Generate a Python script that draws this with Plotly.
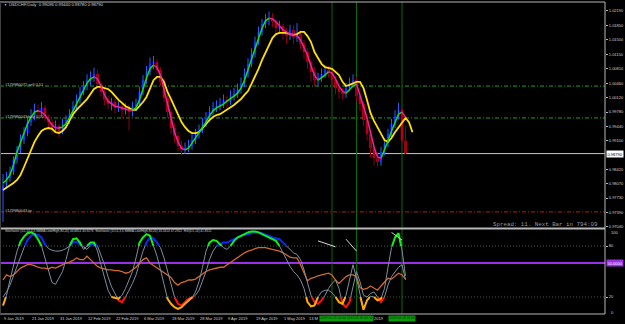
import plotly.graph_objects as go

W, H = 625, 324

# ---------------- data ----------------
bars = list(range(116))

opens = [0.9790, 0.9804, 0.9821, 0.9835, 0.9864, 0.9888, 0.9911, 0.9928, 0.9954, 0.9964,
         0.9983, 0.9978, 0.9988, 0.9964, 0.9954, 0.9940, 0.9945, 0.9930, 0.9950, 0.9959,
         0.9973, 0.9992, 1.0007, 1.0026, 1.0040, 1.0054, 1.0059, 1.0069, 1.0045, 1.0026,
         1.0007, 0.9997, 1.0002, 0.9988, 0.9992, 0.9983, 0.9988, 0.9978, 0.9992, 0.9997,
         1.0026, 1.0054, 1.0074, 1.0093, 1.0097, 1.0078, 1.0050, 1.0012, 0.9978, 0.9940,
         0.9921, 0.9897, 0.9888, 0.9892, 0.9897, 0.9911, 0.9926, 0.9935, 0.9950, 0.9964,
         0.9978, 0.9988, 0.9992, 0.9997, 1.0007, 1.0002, 1.0016, 1.0021, 1.0031, 1.0045,
         1.0069, 1.0093, 1.0116, 1.0145, 1.0169, 1.0188, 1.0198, 1.0202, 1.0193, 1.0178,
         1.0183, 1.0169, 1.0159, 1.0174, 1.0155, 1.0164, 1.0140, 1.0121, 1.0097, 1.0074,
         1.0054, 1.0059, 1.0069, 1.0078, 1.0074, 1.0054, 1.0035, 1.0026, 1.0021, 1.0035,
         1.0045, 1.0054, 1.0016, 0.9997, 0.9959, 0.9926, 0.9892, 0.9868, 0.9859, 0.9883,
         0.9902, 0.9926, 0.9950, 0.9969, 0.9983, 0.9910]

closes = [0.9804, 0.9821, 0.9835, 0.9864, 0.9888, 0.9911, 0.9928, 0.9954, 0.9964, 0.9983,
          0.9978, 0.9988, 0.9964, 0.9954, 0.9940, 0.9945, 0.9930, 0.9950, 0.9959, 0.9973,
          0.9992, 1.0007, 1.0026, 1.0040, 1.0054, 1.0059, 1.0069, 1.0045, 1.0026, 1.0007,
          0.9997, 1.0002, 0.9988, 0.9992, 0.9983, 0.9988, 0.9978, 0.9992, 0.9997, 1.0026,
          1.0054, 1.0074, 1.0093, 1.0097, 1.0078, 1.0050, 1.0012, 0.9978, 0.9940, 0.9921,
          0.9897, 0.9888, 0.9892, 0.9897, 0.9911, 0.9926, 0.9935, 0.9950, 0.9964, 0.9978,
          0.9988, 0.9992, 0.9997, 1.0007, 1.0002, 1.0016, 1.0021, 1.0031, 1.0045, 1.0069,
          1.0093, 1.0116, 1.0145, 1.0169, 1.0188, 1.0198, 1.0202, 1.0193, 1.0178, 1.0183,
          1.0169, 1.0159, 1.0174, 1.0155, 1.0164, 1.0140, 1.0121, 1.0097, 1.0074, 1.0054,
          1.0059, 1.0069, 1.0078, 1.0074, 1.0054, 1.0035, 1.0026, 1.0021, 1.0035, 1.0045,
          1.0054, 1.0016, 0.9997, 0.9959, 0.9926, 0.9892, 0.9868, 0.9859, 0.9883, 0.9902,
          0.9926, 0.9950, 0.9969, 0.9983, 0.9910, 0.9879]

highs = [0.9830, 0.9835, 0.9848, 0.9872, 0.9897, 0.9925, 0.9942, 0.9968, 0.9985, 0.9998,
         0.9995, 1.0002, 0.9994, 0.9972, 0.9962, 0.9958, 0.9950, 0.9962, 0.9970, 0.9985,
         1.0004, 1.0020, 1.0038, 1.0052, 1.0068, 1.0075, 1.0084, 1.0078, 1.0052, 1.0033,
         1.0018, 1.0012, 1.0010, 1.0004, 0.9998, 0.9999, 0.9995, 1.0003, 1.0010, 1.0038,
         1.0066, 1.0088, 1.0108, 1.0112, 1.0104, 1.0085, 1.0058, 1.0020, 0.9985, 0.9950,
         0.9930, 0.9910, 0.9905, 0.9912, 0.9925, 0.9938, 0.9948, 0.9964, 0.9978, 0.9992,
         1.0002, 1.0006, 1.0012, 1.0020, 1.0016, 1.0030, 1.0036, 1.0046, 1.0060, 1.0082,
         1.0106, 1.0130, 1.0158, 1.0182, 1.0200, 1.0212, 1.0218, 1.0214, 1.0200, 1.0196,
         1.0190, 1.0178, 1.0186, 1.0185, 1.0190, 1.0172, 1.0150, 1.0130, 1.0105, 1.0085,
         1.0072, 1.0082, 1.0090, 1.0088, 1.0080, 1.0062, 1.0045, 1.0036, 1.0048, 1.0060,
         1.0068, 1.0060, 1.0025, 1.0005, 0.9968, 0.9935, 0.9900, 0.9880, 0.9895, 0.9915,
         0.9938, 0.9962, 0.9982, 1.0000, 0.9990, 0.9944]

lows = [0.9716, 0.9795, 0.9812, 0.9828, 0.9855, 0.9880, 0.9902, 0.9920, 0.9945, 0.9958,
        0.9965, 0.9968, 0.9955, 0.9940, 0.9925, 0.9930, 0.9918, 0.9925, 0.9940, 0.9950,
        0.9966, 0.9984, 0.9998, 1.0018, 1.0030, 1.0042, 1.0050, 1.0038, 1.0015, 0.9995,
        0.9985, 0.9982, 0.9975, 0.9978, 0.9962, 0.9972, 0.9935, 0.9968, 0.9980, 0.9990,
        1.0018, 1.0045, 1.0066, 1.0080, 1.0070, 1.0040, 1.0002, 0.9965, 0.9925, 0.9905,
        0.9885, 0.9875, 0.9878, 0.9882, 0.9888, 0.9902, 0.9915, 0.9928, 0.9942, 0.9955,
        0.9970, 0.9978, 0.9982, 0.9988, 0.9990, 0.9995, 1.0005, 1.0012, 1.0022, 1.0038,
        1.0060, 1.0085, 1.0108, 1.0138, 1.0160, 1.0178, 1.0185, 1.0180, 1.0165, 1.0168,
        1.0150, 1.0140, 1.0150, 1.0140, 1.0145, 1.0128, 1.0105, 1.0080, 1.0050, 1.0040,
        1.0040, 1.0050, 1.0060, 1.0062, 1.0040, 1.0020, 1.0010, 1.0008, 1.0012, 1.0028,
        1.0038, 1.0005, 0.9980, 0.9945, 0.9910, 0.9870, 0.9852, 0.9848, 0.9850, 0.9875,
        0.9895, 0.9918, 0.9940, 0.9960, 0.9905, 0.9878]

fast_ma = [0.9809, 0.9816, 0.9828, 0.9852, 0.9883, 0.9907, 0.9930, 0.9950, 0.9966, 0.9978,
           0.9981, 0.9978, 0.9971, 0.9959, 0.9947, 0.9940, 0.9940, 0.9942, 0.9950, 0.9964,
           0.9981, 0.9997, 1.0014, 1.0031, 1.0047, 1.0057, 1.0062, 1.0057, 1.0040, 1.0019,
           1.0004, 0.9997, 0.9992, 0.9990, 0.9988, 0.9985, 0.9983, 0.9983, 0.9988, 1.0007,
           1.0035, 1.0059, 1.0081, 1.0090, 1.0085, 1.0066, 1.0031, 0.9995, 0.9959, 0.9930,
           0.9907, 0.9892, 0.9888, 0.9892, 0.9904, 0.9916, 0.9928, 0.9940, 0.9954, 0.9969,
           0.9981, 0.9988, 0.9992, 0.9997, 1.0004, 1.0009, 1.0016, 1.0023, 1.0035, 1.0054,
           1.0078, 1.0102, 1.0131, 1.0155, 1.0178, 1.0195, 1.0202, 1.0200, 1.0193, 1.0183,
           1.0174, 1.0169, 1.0164, 1.0162, 1.0160, 1.0150, 1.0133, 1.0114, 1.0088, 1.0066,
           1.0054, 1.0059, 1.0066, 1.0074, 1.0071, 1.0057, 1.0040, 1.0028, 1.0023, 1.0031,
           1.0040, 1.0045, 1.0019, 0.9995, 0.9964, 0.9930, 0.9895, 0.9871, 0.9868, 0.9888,
           0.9909, 0.9933, 0.9954, 0.9973, 0.9978, 0.9966]

# slow MA is displayed shifted two bars forward (118 points)
slow_ma = [0.9792, 0.9797, 0.9802, 0.9809, 0.9816, 0.9828, 0.9847, 0.9868, 0.9888, 0.9907,
           0.9921, 0.9933, 0.9938, 0.9940, 0.9938, 0.9930, 0.9928, 0.9933, 0.9942, 0.9959,
           0.9973, 0.9983, 0.9992, 1.0002, 1.0009, 1.0021, 1.0033, 1.0038, 1.0038, 1.0035,
           1.0033, 1.0026, 1.0016, 1.0007, 1.0000, 0.9992, 0.9988, 0.9983, 0.9983, 0.9992,
           1.0002, 1.0014, 1.0035, 1.0054, 1.0062, 1.0062, 1.0050, 1.0026, 1.0009, 0.9992,
           0.9973, 0.9954, 0.9942, 0.9933, 0.9928, 0.9928, 0.9930, 0.9940, 0.9950, 0.9959,
           0.9966, 0.9971, 0.9973, 0.9978, 0.9983, 0.9988, 0.9995, 1.0002, 1.0009, 1.0019,
           1.0028, 1.0045, 1.0062, 1.0081, 1.0102, 1.0121, 1.0140, 1.0155, 1.0164, 1.0167,
           1.0167, 1.0167, 1.0164, 1.0162, 1.0164, 1.0169, 1.0169, 1.0159, 1.0145, 1.0121,
           1.0107, 1.0093, 1.0085, 1.0083, 1.0081, 1.0074, 1.0066, 1.0050, 1.0040, 1.0043,
           1.0047, 1.0050, 1.0050, 1.0035, 1.0007, 0.9976, 0.9957, 0.9942, 0.9926, 0.9911,
           0.9907, 0.9916, 0.9930, 0.9942, 0.9954, 0.9964, 0.9954, 0.9930]

stoch_fast = [10, 22, 40, 58, 74, 85, 91, 95, 96, 94,
              88, 80, 66, 50, 37, 35, 42, 50, 64, 80,
              88, 89, 84, 76, 80, 84, 84, 74, 58, 42,
              28, 20, 19, 18, 22, 30, 40, 50, 66, 84,
              90, 94, 92, 80, 68, 52, 34, 18, 12, 8,
              6, 8, 12, 16, 19, 26, 38, 55, 74, 84,
              87, 86, 82, 78, 76, 80, 86, 90, 92, 94,
              96, 97, 97, 96, 94, 92, 90, 88, 86, 80,
              72, 64, 56, 50, 46, 40, 30, 14, 9, 10,
              20, 26, 28, 28, 25, 20, 14, 12, 22, 40,
              58, 42, 22, 5, 16, 21, 20, 16, 18, 30,
              55, 78, 90, 95, 75, 45]

stoch_slow = [20, 26, 34, 45, 56, 68, 78, 87, 92, 94,
              93, 90, 82, 77, 75, 74, 74, 75, 77, 80,
              84, 85, 82, 78, 76, 81, 83, 80, 70, 58,
              44, 32, 24, 16, 14, 20, 28, 36, 46, 60,
              74, 84, 90, 89, 84, 78, 66, 50, 34, 20,
              12, 10, 14, 18, 19, 22, 28, 38, 50, 64,
              74, 80, 82, 84, 84, 86, 88, 90, 92, 93,
              94, 95, 96, 96, 95, 93, 92, 90, 89, 88,
              84, 80, 76, 72, 70, 64, 52, 36, 22, 14,
              12, 16, 22, 30, 36, 40, 30, 12, 8, 14,
              34, 50, 38, 22, 20, 24, 26, 20, 14, 20,
              34, 44, 50, 55, 58, 40]

rsi = [40, 46, 44, 46, 50, 54, 56, 58, 58, 57,
       55, 54, 54, 53, 55, 54, 56, 58, 60, 61,
       63, 66, 64, 64, 68, 64, 60, 56, 54, 53,
       52, 52, 51, 51, 50, 48, 49, 52, 55, 60,
       64, 66, 60, 57, 54, 51, 49, 46, 43, 37,
       34, 37, 38, 40, 40, 41, 44, 48, 50, 52,
       53, 54, 55, 55, 58, 60, 63, 66, 70, 72,
       74, 75, 77, 78, 78, 78, 77, 76, 75, 74,
       72, 69, 67, 66, 66, 58, 48, 39, 42, 43,
       45, 46, 47, 48, 46, 40, 36, 40, 44, 46,
       46, 44, 31, 29, 30, 33, 30, 28, 33, 38,
       42, 41, 45, 48, 46, 41]

# short marks of another indicator in the sub window (bar, value)
mark_x = [90, 95, None, 98, 101, None, 111, 114]
mark_v = [86, 79, None, 88, 74, None, 96, 87]

price_ticks = [1.02190, 1.01850, 1.01500, 1.01150, 1.00810, 1.00460, 1.00120, 0.99780,
               0.99440, 0.99100, 0.98420, 0.98070, 0.97730, 0.97390, 0.97040]
price_tick_text = ["%.5f" % p for p in price_ticks]

date_idx = [0, 8, 16, 24, 32, 40, 48, 56, 64, 72, 80, 87.0]
date_text = ["9 Jan 2019", "21 Jan 2019", "31 Jan 2019", "12 Feb 2019", "22 Feb 2019",
             "6 Mar 2019", "18 Mar 2019", "28 Mar 2019", "9 Apr 2019", "19 Apr 2019",
             "1 May 2019", "13 M"]
# visible tail of the partly covered "4 Jun 2019" label
tail_idx = 105.6
tail_text = "2019"

vline_idx = [94, 101, 114]
vline_box_pos = [98.0, 114]
vline_box_text = ["2019.05.21 00:00 2019.05.30 00:00", "2019.06.18 00:00"]

sell_level, buy_level, tp_level = 1.0040, 0.9964, 0.9740
last_price = 0.98790
level_line_value = 60
level_line_text = "50.0000"

title_text = "USDCHF,Daily  0.99096 0.99440 0.98780 0.98790"
sub_title = ("Stochastic (D1,14,3,3,SMMA,Low/High,80,20) 44.6814 40.9276  "
             "Stochastic (D1,6,3,3,SMMA,Low/High,80,20) 45.3414 47.2922  RSI(D1,14) 41.8511")
spread_text = "Spread: 11. Next Bar in 794:09"

# ---------------- geometry helpers ----------------
def px(x):
    return x / W

def py(y):
    return 1 - y / H

X_RANGE = [-3 / 3.5, 602 / 3.5]
RIGHT = 605

fig = go.Figure()

# ---------------- candles ----------------
bull = [i for i in bars if closes[i] >= opens[i]]
bear = [i for i in bars if closes[i] < opens[i]]

def wick_xy(idx):
    xs, ys = [], []
    for i in idx:
        xs += [i, i, None]
        ys += [lows[i], highs[i], None]
    return xs, ys

for idx, wcol in ((bull, "#2060ff"), (bear, "#8a0010")):
    wx, wy = wick_xy(idx)
    fig.add_trace(go.Scatter(x=wx, y=wy, mode="lines", line=dict(color=wcol, width=1),
                             hoverinfo="skip", showlegend=False, xaxis="x", yaxis="y"))

for idx, bcol in ((bull, "#0008ff"), (bear, "#e0001c")):
    fig.add_trace(go.Bar(x=idx, y=[max(abs(closes[i] - opens[i]), 0.00008) for i in idx],
                         base=[min(opens[i], closes[i]) for i in idx], width=0.7,
                         marker=dict(color=bcol, line=dict(width=0)),
                         hoverinfo="skip", showlegend=False, xaxis="x", yaxis="y"))

# ---------------- moving averages ----------------
def runs(vals, rising):
    xs, ys = [], []
    prev_in = False
    for i in range(1, len(vals)):
        up = vals[i] > vals[i - 1]
        inside = up if rising else not up
        if inside:
            if not prev_in:
                xs.append(i - 1)
                ys.append(vals[i - 1])
            xs.append(i)
            ys.append(vals[i])
        elif prev_in:
            xs.append(None)
            ys.append(None)
        prev_in = inside
    return xs, ys

slow_x = list(range(len(slow_ma)))
fig.add_trace(go.Scatter(x=slow_x, y=slow_ma, mode="lines", line=dict(color="#ffe000", width=1.8),
                         hoverinfo="skip", showlegend=False, xaxis="x", yaxis="y"))
for rising, col in ((True, "#10e010"), (False, "#f0209a")):
    mx, my = runs(fast_ma, rising)
    fig.add_trace(go.Scatter(x=mx, y=my, mode="lines", line=dict(color=col, width=1.5),
                             hoverinfo="skip", showlegend=False, xaxis="x", yaxis="y"))

# ---------------- sub window ----------------
def zone_xy(vals, thr, above):
    xs, ys = [], []
    n = len(vals)
    inside = (lambda v: v >= thr) if above else (lambda v: v <= thr)
    for i in range(n):
        v = vals[i]
        if inside(v):
            if i > 0 and not inside(vals[i - 1]):
                p = vals[i - 1]
                t = (thr - p) / (v - p)
                xs.append(i - 1 + t)
                ys.append(thr)
            xs.append(i)
            ys.append(v)
            if i < n - 1 and not inside(vals[i + 1]):
                q = vals[i + 1]
                t = (thr - v) / (q - v)
                xs.append(i + t)
                ys.append(thr)
                xs.append(None)
                ys.append(None)
    return xs, ys

fig.add_trace(go.Scatter(x=bars, y=rsi, mode="lines", line=dict(color="#d2692a", width=1.3),
                         hoverinfo="skip", showlegend=False, xaxis="x2", yaxis="y2"))
for series in (stoch_slow, stoch_fast):
    fig.add_trace(go.Scatter(x=bars, y=series, mode="lines", line=dict(color="#7f8e9e", width=1),
                             hoverinfo="skip", showlegend=False, xaxis="x2", yaxis="y2"))
for series, thr, above, col in ((stoch_slow, 80, True, "#0a28ff"), (stoch_slow, 20, False, "#ff1010"),
                                (stoch_fast, 80, True, "#10f010"), (stoch_fast, 20, False, "#ffae00")):
    zx, zy = zone_xy(series, thr, above)
    fig.add_trace(go.Scatter(x=zx, y=zy, mode="lines", line=dict(color=col, width=2),
                             hoverinfo="skip", showlegend=False, xaxis="x2", yaxis="y2"))
fig.add_trace(go.Scatter(x=mark_x, y=mark_v, mode="lines", line=dict(color="#d8d8d8", width=1),
                         hoverinfo="skip", showlegend=False, xaxis="x2", yaxis="y2"))

# ---------------- shapes ----------------
shapes = []
GRAY = "#b8b8b8"
for lvl, col in ((sell_level, "#1fa01f"), (buy_level, "#1fa01f"), (tp_level, "#c01818")):
    shapes.append(dict(type="line", xref="paper", yref="y", x0=0, x1=px(RIGHT), y0=lvl, y1=lvl,
                       line=dict(color=col, width=1, dash="4px,2px,1px,2px"), layer="below"))
shapes.append(dict(type="line", xref="paper", yref="y", x0=0, x1=px(RIGHT), y0=last_price, y1=last_price,
                   line=dict(color="#c8c8c8", width=1), layer="below"))
for lvl in (80, 20):
    shapes.append(dict(type="line", xref="paper", yref="y2", x0=0, x1=px(RIGHT), y0=lvl, y1=lvl,
                       line=dict(color="#3e5e50", width=1, dash="1px,2px"), layer="below"))
shapes.append(dict(type="line", xref="paper", yref="y2", x0=0, x1=px(RIGHT), y0=level_line_value,
                   y1=level_line_value, line=dict(color="#9a30e8", width=2), layer="below"))
for i in vline_idx:
    shapes.append(dict(type="line", xref="x", yref="paper", x0=i, x1=i, y0=py(314), y1=py(2),
                       line=dict(color="#0a6a0a", width=1), layer="below"))
shapes += [
    dict(type="line", xref="paper", yref="paper", x0=0, x1=px(RIGHT), y0=py(2), y1=py(2), line=dict(color=GRAY, width=1)),
    dict(type="line", xref="paper", yref="paper", x0=0, x1=px(RIGHT), y0=py(228.5), y1=py(228.5), line=dict(color=GRAY, width=2)),
    dict(type="line", xref="paper", yref="paper", x0=0, x1=px(RIGHT), y0=py(314), y1=py(314), line=dict(color=GRAY, width=1)),
    dict(type="line", xref="paper", yref="paper", x0=px(RIGHT), x1=px(RIGHT), y0=py(314), y1=py(2), line=dict(color=GRAY, width=1)),
    dict(type="line", xref="paper", yref="paper", x0=px(0.5), x1=px(0.5), y0=py(314), y1=py(2), line=dict(color="#404040", width=1)),
]

# ---------------- annotations ----------------
F = "Liberation Sans"
TXT = "#d0d0d0"
ann = []

def note(x, y, text, size=4, color=TXT, xanchor="left", family=F, **kw):
    d = dict(x=px(x), y=py(y), xref="paper", yref="paper", text=text, showarrow=False,
             xanchor=xanchor, yanchor="middle", font=dict(family=family, size=size, color=color))
    d.update(kw)
    ann.append(d)

note(2, 5, "▼", size=3)
note(7, 5, title_text, size=4.2)
note(3, 231.5, sub_title, size=3.15)
note(600, 224.5, spread_text, size=5.8, color="#9a9a9a", xanchor="right", family="Liberation Mono")
note(3, 84, "#179980072 sell 0.51", size=4, color="#c8c8c8")
note(3, 116, "#179980043 buy 0.55", size=4, color="#c8c8c8")
note(3, 210, "#179980043 tp", size=4, color="#c8c8c8")

for i, t in zip(date_idx, date_text):
    ann.append(dict(x=i, y=py(318), xref="x2", yref="paper", text=t, showarrow=False,
                    xanchor="left", yanchor="middle", borderpad=0,
                    font=dict(family=F, size=4, color=TXT)))
ann.append(dict(x=tail_idx, y=py(318), xref="x2", yref="paper", text=tail_text, showarrow=False,
                xanchor="left", yanchor="middle", borderpad=0, font=dict(family=F, size=4, color=TXT)))
for pos, t in zip(vline_box_pos, vline_box_text):
    ann.append(dict(x=pos, y=py(318), xref="x2", yref="paper", text=t, showarrow=False,
                    xanchor="center", yanchor="middle", bgcolor="#0a9a0a", borderpad=0.3,
                    font=dict(family=F, size=3.3, color="#003300")))

ann.append(dict(x=px(RIGHT + 1), y=last_price, xref="paper", yref="y", text="0.98790", showarrow=False,
                xanchor="left", yanchor="middle", bgcolor="#ffffff", borderpad=0.5,
                font=dict(family=F, size=4, color="#000000")))
ann.append(dict(x=px(RIGHT + 1), y=level_line_value, xref="paper", yref="y2", text=level_line_text,
                showarrow=False, xanchor="left", yanchor="middle", bgcolor="#9a30e8", borderpad=0.5,
                font=dict(family=F, size=4, color="#ffffff")))
note(RIGHT + 4, 232, "100", size=4)
note(RIGHT + 4, 312, "0", size=4)

fig.update_layout(
    width=W, height=H, margin=dict(l=0, r=0, t=0, b=0),
    paper_bgcolor="#000000", plot_bgcolor="#000000",
    barmode="overlay", showlegend=False,
    xaxis=dict(domain=[0, px(RIGHT)], range=X_RANGE, showgrid=False, zeroline=False,
               showticklabels=False, ticks="", anchor="y"),
    yaxis=dict(domain=[py(228), py(2)], range=[0.97016, 1.02404], side="right", showgrid=False,
               zeroline=False, tickvals=price_ticks, ticktext=price_tick_text, ticks="outside",
               ticklen=2, tickcolor=GRAY, tickfont=dict(family=F, size=4, color=TXT), anchor="x"),
    xaxis2=dict(domain=[0, px(RIGHT)], range=X_RANGE, showgrid=False, zeroline=False,
                showticklabels=False, ticks="", anchor="y2", matches="x"),
    yaxis2=dict(domain=[py(314), py(229)], range=[0, 100], side="right", showgrid=False,
                zeroline=False, tickvals=[80, 20], ticktext=["80", "20"], ticks="outside",
                ticklen=2, tickcolor=GRAY, tickfont=dict(family=F, size=4, color=TXT), anchor="x2"),
    shapes=shapes, annotations=ann,
)

fig.write_html("out.html")
